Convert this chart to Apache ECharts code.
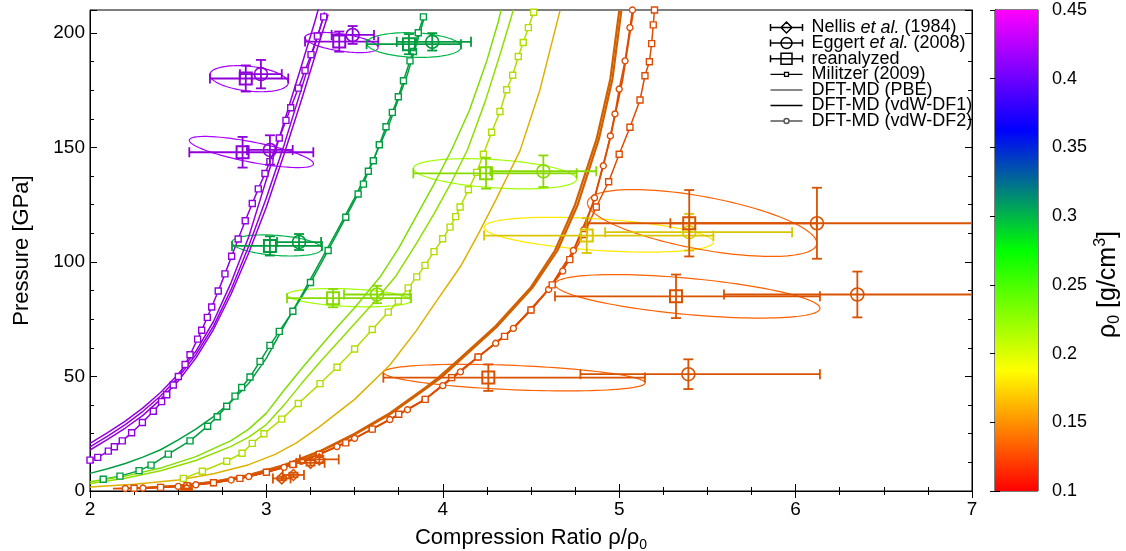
<!DOCTYPE html>
<html><head><meta charset="utf-8">
<script src="https://cdn.jsdelivr.net/npm/echarts@6/dist/echarts.min.js"></script>
<style>html,body{margin:0;padding:0;background:#fff}#c{width:1126px;height:551px}</style>
</head><body><div id="c"></div>
<script>
const FONT = "'Liberation Sans', Arial, Helvetica, sans-serif";

// ---------- axes ----------
const xRange = [2, 7];
const yRange = [0, 210];
const cbRange = [0.1, 0.45];

// ---------- curves (compression ratio, pressure GPa) ----------
// rho0 = 0.42 g/cc
const mil42X = [2.000,2.044,2.104,2.138,2.183,2.236,2.297,2.359,2.406,2.435,2.472,2.501,2.539,2.567,2.610,2.633,2.665,2.690,2.727,2.765,2.803,2.840,2.880,2.920,2.954,2.992,3.020,3.073,3.111,3.138,3.181,3.219,3.253,3.289,3.325];
const mil42P = [13.5,14.7,17.4,19.3,21.9,25.4,29.9,34.8,39.0,42.0,46.3,50.0,55.2,59.5,66.3,70.2,75.8,80.3,87.3,94.8,102.5,110.0,118.0,125.5,131.9,138.6,143.8,154.1,161.8,167.3,175.9,183.6,190.5,198.6,207.0];
const pbe42X = [2.0,2.1,2.2,2.3,2.4,2.5,2.6,2.7,2.8,2.9,2.96,3.0,3.1,3.2,3.275,3.3];
const pbe42P = [20.8,25.5,30.5,36.3,43,51,61,74,91,111,126,136,161,186,205,212];
const df1a42X = [2.0,2.1,2.2,2.3,2.4,2.5,2.6,2.7,2.8,2.9,3.0,3.1,3.2,3.3,3.33];
const df1a42P = [19.3,24,29,34.8,41.5,49.5,59.5,72,88,107,128,151,176,201,209];
const df1b42X = [2.0,2.1,2.2,2.3,2.4,2.5,2.6,2.7,2.8,2.9,3.0,3.1,3.2,3.3,3.35];
const df1b42P = [17.9,22.5,27.5,33,40,48,58,70.5,86,104,124,147,171,196,208];
// rho0 = 0.30
const mil30X = [2.075,2.170,2.278,2.346,2.444,2.567,2.667,2.721,2.775,2.822,2.860,2.907,2.964,3.020,3.073,3.150,3.250,3.350,3.450,3.520,3.550,3.578,3.606,3.640,3.678,3.714,3.748,3.777,3.814,3.833,3.861,3.890];
const mil30P = [5.1,6.5,8.9,11.3,16.1,21.9,28.3,32.4,37.0,41.4,45.2,49.8,56.6,63.6,69.7,78.5,91.0,105.0,119.5,129.7,134.0,139.6,144.2,151.2,159.0,165.3,172.1,179.1,187.8,191.9,200.1,207.0];
const pbe30X = [2.0,2.1,2.2,2.3,2.4,2.5,2.6,2.7,2.8,2.9,3.0,3.1,3.2,3.3,3.4,3.5,3.6,3.7,3.8,3.87,3.9];
const pbe30P = [7.7,9.7,12.0,14.8,18.0,22.3,27.0,32.5,39.0,47.0,58.0,72.0,85.5,99.5,113.5,128.0,143.5,161.0,182.0,200.0,208.0];
// rho0 ~ 0.21-0.23
const mil21X = [2.529,2.637,2.775,2.862,2.920,2.986,3.087,3.181,3.304,3.400,3.500,3.600,3.691,3.748,3.804,3.852,3.899,3.950,3.999,4.041,4.073,4.098,4.145,4.192,4.230,4.277,4.324,4.362,4.396,4.428,4.456,4.485,4.515];
const mil21P = [5.5,8.6,13.0,16.5,20.8,25.0,31.4,38.2,46.9,54.0,62.0,70.5,78.1,82.9,88.7,93.5,98.5,104.5,110.1,115.2,119.8,124.0,131.5,139.1,147.0,156.6,165.7,175.2,181.5,189.7,195.8,202.3,209.0];
const pbe23X = [2.0,2.2,2.4,2.6,2.8,2.9,3.0,3.1,3.2,3.3,3.4,3.5,3.644,3.75,3.85,3.95,4.05,4.15,4.25,4.315,4.33];
const pbe23P = [4.0,6.5,10.0,15.0,22.0,27.0,34.0,44.0,53.5,62.5,71.5,80.0,93.4,106,120,134,149,166,188,205,210];
const pbe22X = [2.0,2.2,2.4,2.6,2.8,2.9,3.0,3.1,3.2,3.3,3.4,3.5,3.6,3.73,3.85,3.95,4.05,4.14,4.24,4.33,4.4];
const pbe22P = [3.3,5.6,8.8,13.3,19.5,23.5,29.0,37.5,47.0,56.0,64.5,73.0,81.5,93.4,108,121,135,149,170,192,210];
// rho0 = 0.17
const pbe17X = [2.0,2.25,2.5,2.7,2.9,3.05,3.17,3.3,3.5,3.7,3.85,3.965,4.1,4.2,4.3,4.438,4.55,4.664];
const pbe17P = [1.8,3.0,4.8,7.5,11.5,16,21,28,40,55,70,83,98,112,127,148.6,175,209.6];
// rho0 ~ 0.13
const df1r13X = [2.13,2.3,2.5,2.7,2.9,3.1,3.3,3.5,3.7,3.9,4.05,4.2,4.4,4.6,4.74,4.85,4.948,5.02,5.08];
const df1r13P = [1.0,1.3,2.0,3.6,6.3,10.3,16,23,31.2,40,49.5,58.5,71,88,105,125,153.7,180,209.6];
const df2r13X = [2.2,2.3,2.4,2.5,2.6,2.7,2.8,2.9,3.0,3.1,3.2,3.3,3.4,3.5,3.6,3.7,3.8,3.9,4.0,4.1,4.2,4.3,4.4,4.5,4.6,4.68,4.74,4.8,4.86,4.91,4.95,4.976,5.0,5.033,5.061,5.075];
const df2r13P = [1.1,1.3,1.6,2.0,2.7,3.6,4.8,6.3,8.2,10.3,13,16,19.4,23,27,31.2,35.5,40,46,52,58.5,64.5,71,79,88,96,105,114,128,142,155,164.6,175.5,187.8,202.3,210];
const mil13X = [2.25,2.4,2.55,2.7,2.85,3.0,3.15,3.3,3.45,3.6,3.75,3.9,4.05,4.2,4.35,4.5,4.62,4.72,4.8,4.87,4.94,5.0,5.061,5.118,5.146,5.171,5.184,5.193,5.2];
const mil13P = [1.2,1.6,2.3,3.6,5.5,8.2,11.6,16,21,27,33.5,40,49.5,58.5,67.5,79,90,101,112,124,135,147,158.8,170.7,181.3,187.4,195.3,203.5,210];
const pbeAr14X = [2.3,2.5,2.7,2.9,3.1,3.3,3.5,3.7,3.9,3.975,4.1,4.3,4.5,4.636,4.75,4.872,4.95,5.0];
const pbeAr14P = [1.3,2.3,4.0,7.0,11.3,17.3,25,34,45,49.5,58,72,89,105,125,153.7,180,209.6];
const pbeBr14X = [2.3,2.5,2.7,2.9,3.1,3.3,3.5,3.7,3.91,3.99,4.11,4.31,4.51,4.65,4.765,4.885,4.962,5.012];
const pbeBr14P = [1.2,2.2,3.9,6.8,11.0,17.0,24.6,33.5,45,49.5,58,72,89,105,125,153.7,180,209.6];

// ---------- experiments ----------
// Nellis et al. (1984)
const nelX = [2.548,3.087,3.153,3.250,3.300];
const nelP = [0.6,5.5,7.0,12.3,13.8];
const nelXerr = [0.03,0.05,0.06,0.08,0.11];
const nelPerr = [0.5,0.8,1.0,1.2,1.5];
const nelRho = [0.133,0.133,0.133,0.133,0.133];
// Eggert et al. (2008)
const egX   = [2.969,3.020,3.489,3.940,3.185,4.570,3.627,5.397,6.121,6.350,5.392];
const egP   = [182.0,148.9,199.1,196.1,108.7,139.6,85.8,113.0,116.9,85.8,51.0];
const egXlo = [2.850,2.890,3.370,3.739,3.060,4.270,3.440,4.920,5.290,5.594,4.780];
const egXhi = [3.087,3.149,3.610,4.160,3.310,4.870,3.814,5.980,7.200,7.100,6.138];
const egPerr= [6.2,6.4,3.9,3.8,3.5,6.9,3.8,8.0,15.5,10.0,6.5];
const egRho = [0.42,0.42,0.42,0.30,0.30,0.22,0.22,0.18,0.133,0.133,0.133];
// reanalyzed
const reX   = [2.883,2.865,3.413,3.808,3.020,4.245,3.378,4.816,5.397,5.322,4.258];
const reP   = [180.1,147.9,196.2,195.1,107.0,138.7,84.2,111.5,116.9,85.0,49.5];
const reXlo = [2.680,2.563,3.219,3.568,2.805,3.833,3.117,4.234,4.820,4.636,3.663];
const reXhi = [3.124,3.266,3.634,4.103,3.315,4.759,3.820,5.534,6.120,6.138,5.146];
const rePerr= [5.7,6.7,4.4,4.4,4.2,6.7,4.0,7.6,14.5,9.5,5.8];
const reRho = [0.42,0.42,0.42,0.30,0.30,0.22,0.22,0.18,0.133,0.133,0.133];
// uncertainty ellipses (centre, half widths, correlation)
const ellCx = [2.902,2.915,3.426,3.836,3.060,4.296,3.468,4.884,5.470,5.387,4.405];
const ellCy = [180.0,148.0,195.8,194.7,107.2,138.5,84.4,111.9,117.0,85.0,49.5];
const ellA  = [0.222,0.352,0.207,0.268,0.255,0.463,0.352,0.650,0.650,0.751,0.742];
const ellB  = [5.7,6.8,4.4,5.4,4.6,6.6,4.0,7.6,14.6,9.5,5.8];
const ellR  = [-0.3,-0.75,-0.5,-0.15,-0.3,-0.35,-0.3,-0.42,-0.6,-0.55,-0.4];
const ellRho= [0.42,0.42,0.42,0.30,0.30,0.22,0.22,0.18,0.133,0.133,0.133];

// ---------- colour palette (gnuplot-like) ----------
const palStops = [[255,0,0],[255,255,0],[0,255,0],[0,0,255],[255,0,255]];
function pal(v){
  let t=(v-cbRange[0])/(cbRange[1]-cbRange[0]); t=Math.max(0,Math.min(1,t));
  const s=t*4, i=Math.min(3,Math.floor(s)), f=s-i;
  return palStops[i].map((c,k)=>Math.round(c+(palStops[i+1][k]-c)*f));
}
function col(v,k){ const c=pal(v); return 'rgb('+c.map(x=>Math.round(x*k)).join(',')+')'; }

const zip = (xs,ys)=>xs.map((x,i)=>[x,ys[i]]);

function curve(name, xs, ps, rho, opt){
  const c = col(rho, opt.k||0.87);
  return {
    type:'line', name, data: zip(xs,ps), xAxisIndex:0, yAxisIndex:0,
    clip:true, silent:true, z:3, animation:false,
    lineStyle:{color:c, width:opt.w||1.5},
    showSymbol: !!opt.sym, symbol: opt.sym||'none', symbolSize: opt.ss||6,
    itemStyle:{color:'#fff', borderColor:c, borderWidth:1.4}
  };
}

function errSeries(name, rows, shape){
  return {
    type:'custom', name, xAxisIndex:0, yAxisIndex:0, clip:true, silent:true, z:5, animation:false,
    dimensions:['x','p','xlo','xhi','plo','phi','rho'],
    encode:{x:0,y:1},
    data: rows,
    renderItem(params, api){
      const x=api.value(0), p=api.value(1);
      const c=api.coord([x,p]);
      const l=api.coord([api.value(2),p]), r=api.coord([api.value(3),p]);
      const b=api.coord([x,api.value(4)]), t=api.coord([x,api.value(5)]);
      const color=col(api.value(6),0.85);
      const st={stroke:color,lineWidth:1.8,fill:'none'};
      const cap=5;
      const ch=[
        {type:'line',shape:{x1:l[0],y1:c[1],x2:r[0],y2:c[1]},style:st},
        {type:'line',shape:{x1:l[0],y1:c[1]-cap,x2:l[0],y2:c[1]+cap},style:st},
        {type:'line',shape:{x1:r[0],y1:c[1]-cap,x2:r[0],y2:c[1]+cap},style:st},
        {type:'line',shape:{x1:c[0],y1:b[1],x2:c[0],y2:t[1]},style:st},
        {type:'line',shape:{x1:c[0]-cap,y1:b[1],x2:c[0]+cap,y2:b[1]},style:st},
        {type:'line',shape:{x1:c[0]-cap,y1:t[1],x2:c[0]+cap,y2:t[1]},style:st}
      ];
      if(shape==='square') ch.push({type:'rect',shape:{x:c[0]-6,y:c[1]-6,width:12,height:12},style:{stroke:color,lineWidth:2,fill:'none'}});
      else if(shape==='circle') ch.push({type:'circle',shape:{cx:c[0],cy:c[1],r:6.5},style:{stroke:color,lineWidth:1.6,fill:'none'}});
      else ch.push({type:'polygon',shape:{points:[[c[0],c[1]-5.5],[c[0]+5.5,c[1]],[c[0],c[1]+5.5],[c[0]-5.5,c[1]]]},style:{stroke:color,lineWidth:1.5,fill:'none'}});
      return {type:'group',children:ch};
    }
  };
}

const nelRows = nelX.map((x,i)=>[x,nelP[i],x-nelXerr[i],x+nelXerr[i],nelP[i]-nelPerr[i],nelP[i]+nelPerr[i],nelRho[i]]);
const egRows = egX.map((x,i)=>[x,egP[i],egXlo[i],egXhi[i],egP[i]-egPerr[i],egP[i]+egPerr[i],egRho[i]]);
const reRows = reX.map((x,i)=>[x,reP[i],reXlo[i],reXhi[i],reP[i]-rePerr[i],reP[i]+rePerr[i],reRho[i]]);
const ellRows = ellCx.map((x,i)=>[x,ellCy[i],ellA[i],ellB[i],ellR[i],ellRho[i]]);

const ellipseSeries = {
  type:'custom', name:'ellipses', xAxisIndex:0, yAxisIndex:0, clip:true, silent:true, z:2, animation:false,
  dimensions:['cx','cy','a','b','r','rho'], encode:{x:0,y:1}, data: ellRows,
  renderItem(params, api){
    const cx=api.value(0), cy=api.value(1), a=api.value(2), b=api.value(3), r=api.value(4);
    const s=Math.sqrt(1-r*r), pts=[];
    for(let i=0;i<=120;i++){ const th=i/120*2*Math.PI;
      pts.push(api.coord([cx+a*Math.cos(th), cy+b*(r*Math.cos(th)+s*Math.sin(th))])); }
    return {type:'polygon', shape:{points:pts}, style:{fill:'none', stroke:col(api.value(5),1.0), lineWidth:1.2}};
  }
};

const colorbarSeries = {
  type:'custom', name:'colorbar', xAxisIndex:2, yAxisIndex:2, silent:true, animation:false,
  data:[[0,cbRange[0],1,cbRange[1]]],
  renderItem(params, api){
    const p1=api.coord([api.value(0),api.value(3)]), p2=api.coord([api.value(2),api.value(1)]);
    return {type:'rect', shape:{x:p1[0],y:p1[1],width:p2[0]-p1[0],height:p2[1]-p1[1]},
      style:{fill:{type:'linear',x:0,y:1,x2:0,y2:0,global:false,
        colorStops:palStops.map((c,i)=>({offset:i/4,color:'rgb('+c.join(',')+')'}))}}};
  }
};

// legend entries (dummy series)
const legendNames = ['Nellis et al. (1984)','Eggert et al. (2008)','reanalyzed','Militzer (2009)','DFT-MD (PBE)','DFT-MD (vdW-DF1)','DFT-MD (vdW-DF2)'];
const B='M0,0M36,14';
const legendIcons = [
  'path://'+B+'M0,3.5L0,10.5M0,7L32,7M32,3.5L32,10.5M16,1.5L21.5,7L16,12.5L10.5,7Z',
  'path://'+B+'M0,3.5L0,10.5M0,7L32,7M32,3.5L32,10.5M21.5,7A5.5,5.5,0,1,1,10.5,7A5.5,5.5,0,1,1,21.5,7Z',
  'path://'+B+'M0,3.5L0,10.5M0,7L32,7M32,3.5L32,10.5M10.5,1.5L21.5,1.5L21.5,12.5L10.5,12.5Z',
  'path://'+B+'M0,7L14,7M18,7L32,7M14,5L18,5L18,9L14,9Z',
  'path://'+B+'M0,7L32,7',
  'path://'+B+'M0,7L32,7',
  'path://'+B+'M0,7L13.5,7M18.5,7L32,7M18.5,7A2.5,2.5,0,1,1,13.5,7A2.5,2.5,0,1,1,18.5,7Z'
];
const legendColors = ['#000','#000','#000','#000','#888','#000','#555'];
const legendWidths = [1.5,1.5,1.5,1.3,2,1.6,1.5];

const series = [
  ellipseSeries,
  curve('m42', mil42X, mil42P, 0.42, {sym:'rect', ss:6}),
  curve('p42', pbe42X, pbe42P, 0.42, {}),
  curve('d42a', df1a42X, df1a42P, 0.42, {}),
  curve('d42b', df1b42X, df1b42P, 0.42, {}),
  curve('m30', mil30X, mil30P, 0.30, {sym:'rect', ss:6}),
  curve('p30', pbe30X, pbe30P, 0.30, {}),
  curve('m21', mil21X, mil21P, 0.205, {sym:'rect', ss:6}),
  curve('p23', pbe23X, pbe23P, 0.225, {}),
  curve('p22', pbe22X, pbe22P, 0.218, {}),
  curve('p17', pbe17X, pbe17P, 0.17, {}),
  curve('pa14', pbeAr14X, pbeAr14P, 0.14, {w:2.2, k:0.82}),
  curve('pb14', pbeBr14X, pbeBr14P, 0.14, {w:2.2, k:0.82}),
  curve('d1r13', df1r13X, df1r13P, 0.13, {w:1.8}),
  curve('d2r13', df2r13X, df2r13P, 0.13, {sym:'circle', ss:6}),
  curve('m13', mil13X, mil13P, 0.13, {sym:'rect', ss:6}),
  errSeries('nellis', nelRows, 'diamond'),
  errSeries('eggert', egRows, 'circle'),
  errSeries('reanalyzed-data', reRows, 'square'),
  colorbarSeries
];
legendNames.forEach(n=>series.push({type:'scatter', name:n, data:[], xAxisIndex:0, yAxisIndex:0}));

const tickStyle = {lineStyle:{color:'#000',width:1}};
function xAx(pos, show){
  return {type:'value', gridIndex:0, position:pos, min:xRange[0], max:xRange[1], interval:1,
    axisLine:{show:true,lineStyle:{color:'#000',width:1}}, splitLine:{show:false},
    axisTick:{show:true,inside:true,length:7,...tickStyle},
    minorTick:{show:true,splitNumber:4,length:4,...tickStyle},
    axisLabel:{show:show,color:'#000',fontSize:19,fontFamily:FONT,margin:9},
    name: show ? 'Compression Ratio ρ/ρ{s|0}' : '', nameLocation:'middle', nameGap:32,
    nameTextStyle:{color:'#000',fontSize:22,fontFamily:FONT,lineHeight:28,
      rich:{s:{fontSize:14,lineHeight:14,verticalAlign:'bottom',fontFamily:FONT,color:'#000'}}}};
}
function yAx(pos, show){
  return {type:'value', gridIndex:0, position:pos, min:yRange[0], max:yRange[1], interval:50,
    axisLine:{show:true,lineStyle:{color:'#000',width:1}}, splitLine:{show:false},
    axisTick:{show:true,inside:true,length:7,...tickStyle},
    minorTick:{show:true,splitNumber:4,length:4,...tickStyle},
    axisLabel:{show:show,color:'#000',fontSize:19,fontFamily:FONT,margin:5,
      formatter:v=>(v%50===0?String(v):'')},
    name: show ? 'Pressure [GPa]' : '', nameLocation:'middle', nameGap:57, nameRotate:90,
    nameTextStyle:{color:'#000',fontSize:22,fontFamily:FONT}};
}

const option = {
  animation:false,
  backgroundColor:'#fff',
  grid:[
    {left:90, top:10, width:882, height:481, show:true, borderColor:'#000', borderWidth:1, backgroundColor:'transparent', containLabel:false, outerBoundsMode:'none'},
    {left:995, top:10, width:43, height:481, show:true, borderColor:'#000', borderWidth:1, backgroundColor:'transparent', containLabel:false, outerBoundsMode:'none'}
  ],
  xAxis:[ xAx('bottom', true), xAx('top', false),
    {type:'value', gridIndex:1, min:0, max:1, show:false} ],
  yAxis:[ yAx('left', true), yAx('right', false),
    {type:'value', gridIndex:1, position:'right', min:cbRange[0], max:cbRange[1], interval:0.05,
     axisLine:{show:true,lineStyle:{color:'#000'}}, splitLine:{show:false},
     axisTick:{show:true,inside:true,length:5,...tickStyle},
     axisLabel:{show:true,color:'#000',fontSize:18,fontFamily:FONT,margin:14},
     name:'ρ{s|0} [g/cm{p|3}]', nameLocation:'middle', nameGap:55, nameRotate:90,
     nameTextStyle:{color:'#000',fontSize:25,fontFamily:FONT,lineHeight:30,padding:[0,68,0,0],
       rich:{s:{fontSize:16,lineHeight:16,verticalAlign:'bottom',fontFamily:FONT,color:'#000'},
             p:{fontSize:16,lineHeight:16,verticalAlign:'top',fontFamily:FONT,color:'#000'}}}},
    {type:'value', gridIndex:1, position:'left', min:cbRange[0], max:cbRange[1], interval:0.05,
     axisLine:{show:true,lineStyle:{color:'#000'}}, splitLine:{show:false},
     axisTick:{show:true,inside:true,length:5,...tickStyle}, axisLabel:{show:false}}
  ],
  legend:{
    orient:'vertical', left:768, top:18, padding:0, itemGap:-3.4, itemWidth:36, itemHeight:14,
    selectedMode:false,
    data: legendNames.map((n,i)=>({name:n, icon:legendIcons[i],
      itemStyle:{color:'none', borderColor:legendColors[i], borderWidth:legendWidths[i], opacity:1}})),
    formatter: n=>n.replace('et al.','{i|et al.}'),
    textStyle:{color:'#000',fontSize:18,fontFamily:FONT,
      rich:{i:{fontStyle:'italic',fontSize:18,fontFamily:FONT,color:'#000'}}}
  },
  series
};
const chart = echarts.init(document.getElementById('c'), null, {renderer:'canvas'});
chart.setOption(option);
</script></body></html>
